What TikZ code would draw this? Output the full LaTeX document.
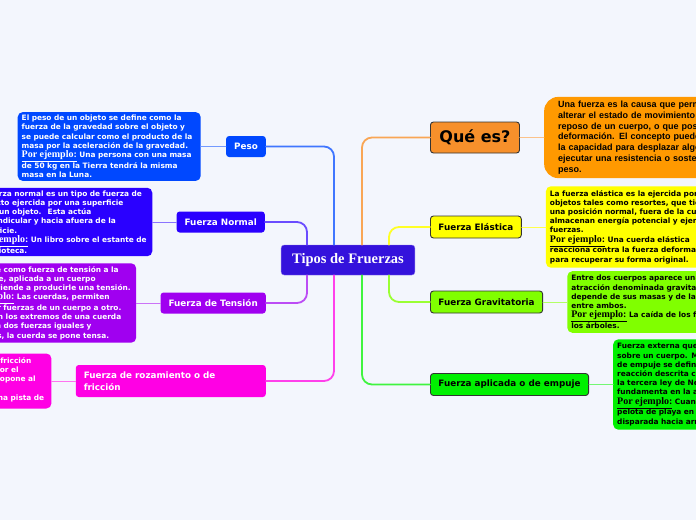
\documentclass[tikz,border=0pt]{standalone}
\usepackage{fontspec}
\setmainfont{DejaVu Sans}
\newfontfamily\serifej{Liberation Serif}
\newfontfamily\arialtxt{Liberation Sans}
\usetikzlibrary{positioning}
\definecolor{fondo}{RGB}{243,246,253}
\definecolor{raizazul}{RGB}{52,18,220}
\definecolor{pesoazul}{RGB}{0,72,255}
\definecolor{normalazul}{RGB}{42,0,255}
\definecolor{tensionlila}{RGB}{160,0,240}
\definecolor{friccionrosa}{RGB}{255,0,228}
\definecolor{queesnaranja}{RGB}{247,144,43}
\definecolor{queesclaro}{RGB}{255,153,0}
\definecolor{elasticaamarillo}{RGB}{255,255,0}
\definecolor{gravitverde}{RGB}{128,255,0}
\definecolor{empujeverde}{RGB}{0,240,0}
\definecolor{borde}{RGB}{51,51,51}
\newcommand{\ejemplo}{{\serifej\bfseries\fontsize{10}{9}\selectfont\underline{Por ejemplo:}}}

\begin{document}
\begin{tikzpicture}[x=1pt,y=-1pt,line cap=round,
 raiz/.style={fill=raizazul,draw=raizazul!60!white,rounded corners=3pt,text=white,
  font=\serifej\bfseries\fontsize{14.5}{17}\selectfont,inner xsep=11pt,minimum height=30pt},
 tema/.style={fill=#1,rounded corners=3pt,text=white,
  font=\bfseries\fontsize{8.8}{12}\selectfont,inner xsep=8pt,minimum height=21pt},
 temader/.style={tema=#1,draw=borde,line width=.9pt,text=black,minimum height=22pt},
 nota/.style={fill=#1,rounded corners=5pt,text=white,align=left,text width=175pt,
  inner xsep=4pt,inner ysep=3pt,font=\bfseries\fontsize{7.4}{9.2}\selectfont},
 notader/.style={nota=#1,text=black,inner ysep=4pt},
 rama/.style={line width=1.8pt,rounded corners=10pt},
 enlace/.style={line width=1pt}]
 % Fondo y marco de la imagen.
 \fill[fondo] (0,0) rectangle (696,520);
 \useasboundingbox (0,0) rectangle (696,520);
 \clip (0,0) rectangle (696,520);
 % Nodo central y temas principales.
 \node[raiz] (tipos) at (348,260) {Tipos de Fruerzas};
 \node[tema=pesoazul,anchor=east] (peso) at (266,146.5) {Peso};
 \node[tema=normalazul,anchor=east] (normal) at (265,222) {Fuerza Normal};
 \node[tema=tensionlila,anchor=east] (tension) at (266,303) {Fuerza de Tensión};
 \node[tema=friccionrosa,anchor=east,text width=174pt,align=left,
       minimum height=32pt] (friccion) at (266,381)
  {Fuerza de rozamiento o de\\fricción};
 \node[temader=queesnaranja,anchor=west,font=\bfseries\fontsize{16}{19}\selectfont,
       inner xsep=9pt,minimum height=31pt] (quees) at (430,137.5) {Qué es?};
 \node[temader=elasticaamarillo,anchor=west] (elastica) at (430,227) {Fuerza Elástica};
 \node[temader=gravitverde,anchor=west] (gravit) at (430,302) {Fuerza Gravitatoria};
 \node[temader=empujeverde,anchor=west] (empuje) at (430,384.5) {Fuerza aplicada o de empuje};
 % Ramas desde el nodo central.
 \draw[rama,pesoazul!75!white] ([xshift=-14pt]tipos.north) |- (peso.east);
 \draw[rama,normalazul!70!white] ([xshift=-41pt]tipos.north) |- (normal.east);
 \draw[rama,tensionlila!70!white] ([xshift=-41pt]tipos.south) |- (tension.east);
 \draw[rama,friccionrosa!75!white] ([xshift=-14pt]tipos.south) |- (friccion.east);
 \draw[rama,queesnaranja!80!white] ([xshift=14pt]tipos.north) |- (quees.west);
 \draw[rama,elasticaamarillo!85!white] ([xshift=41pt]tipos.north) |- (elastica.west);
 \draw[rama,gravitverde!80!white] ([xshift=41pt]tipos.south) |- (gravit.west);
 \draw[rama,empujeverde!75!white] ([xshift=14pt]tipos.south) |- (empuje.west);
 % Notas de la izquierda.
 \node[nota=pesoazul,left=25pt of peso] (pesoTxt)
  {El peso de un objeto se define como la\\
   fuerza de la gravedad sobre el objeto y\\
   se puede calcular como el producto de la\\
   masa por la aceleración de la gravedad.\\
   \ejemplo{} Una persona con una masa\\
   de 50 kg en la Tierra tendrá la misma\\
   masa en la Luna.};
 \node[nota=normalazul,left=24pt of normal] (normalTxt)
  {La fuerza normal es un tipo de fuerza de\\
   contacto ejercida por una superficie\\
   sobre un objeto.~ Esta actúa\\
   perpendicular y hacia afuera de la\\
   superficie.\\
   \ejemplo{} Un libro sobre el estante de\\
   la biblioteca.};
 \node[nota=tensionlila,left=24pt of tension,text width=173pt] (tensionTxt)
  {Se conoce como fuerza de tensión a la\\
   fuerza que, aplicada a un cuerpo\\
   elástico, tiende a producirle una tensión.\\
   \ejemplo{} Las cuerdas, permiten\\
   transmitir fuerzas de un cuerpo a otro.\\
   Cuando en los extremos de una cuerda\\
   se aplican dos fuerzas iguales y\\
   contrarias, la cuerda se pone tensa.};
 \node[nota=friccionrosa,left=24pt of friccion,text width=171pt,
       minimum height=55pt] (friccionTxt)
  {La fuerza de rozamiento o de fricción\\
   es aquella fuerza producida por el\\
   contacto de dos cuerpos y se opone al\\
   movimiento.\\
   \ejemplo{} Patinar sobre una pista de};
 % Notas de la derecha.
 \node[notader=queesclaro,right=24pt of quees,rounded corners=14pt,inner xsep=14pt,
       text width=210pt,font=\arialtxt\bfseries\fontsize{9}{10.8}\selectfont] (queesTxt)
  {Una fuerza es la causa que permite\\
   alterar el estado de movimiento o de\\
   reposo de un cuerpo, o que posibilita su\\
   deformación. El concepto puede ser\\
   la capacidad para desplazar algo,\\
   ejecutar una resistencia o sostener un\\
   peso.};
 \node[notader=elasticaamarillo,right=24pt of elastica] (elasticaTxt)
  {La fuerza elástica es la ejercida por\\
   objetos tales como resortes, que tienen\\
   una posición normal, fuera de la cual\\
   almacenan energía potencial y ejercen\\
   fuerzas.\\
   \ejemplo{} Una cuerda elástica\\
   reacciona contra la fuerza deformadora\\
   para recuperar su forma original.};
 \node[notader=gravitverde,right=24pt of gravit] (gravitTxt)
  {Entre dos cuerpos aparece una fuerza de\\
   atracción denominada gravitatoria, que\\
   depende de sus masas y de la distancia\\
   entre ambos.\\
   \ejemplo{} La caída de los frutos de\\
   los árboles.};
 \node[notader=empujeverde,right=24pt of empuje] (empujeTxt)
  {Fuerza externa que se aplica\\
   sobre un cuerpo. Mientras, la fuerza\\
   de empuje se define como la fuerza de\\
   reacción descrita cuantitativamente por\\
   la tercera ley de Newton, y se\\
   fundamenta en la acción y reacción.\\
   \ejemplo{} Cuando se sumerge una\\
   pelota de playa en el agua, es\\
   disparada hacia arriba.};
 % Enlaces entre temas y notas.
 \draw[enlace,pesoazul!55!white] (peso.west) -- (pesoTxt.east |- peso.west);
 \draw[enlace,normalazul!55!white] (normal.west) -- (normalTxt.east |- normal.west);
 \draw[enlace,tensionlila!55!white] (tension.west) -- (tensionTxt.east |- tension.west);
 \draw[enlace,friccionrosa!55!white] (friccion.west) -- (friccionTxt.east |- friccion.west);
 \draw[enlace,queesnaranja!55!white] (quees.east) -- (queesTxt.west |- quees.east);
 \draw[enlace,elasticaamarillo!70!white] (elastica.east) -- (elasticaTxt.west |- elastica.east);
 \draw[enlace,gravitverde!60!white] (gravit.east) -- (gravitTxt.west |- gravit.east);
 \draw[enlace,empujeverde!55!white] (empuje.east) -- (empujeTxt.west |- empuje.east);
\end{tikzpicture}
\end{document}
